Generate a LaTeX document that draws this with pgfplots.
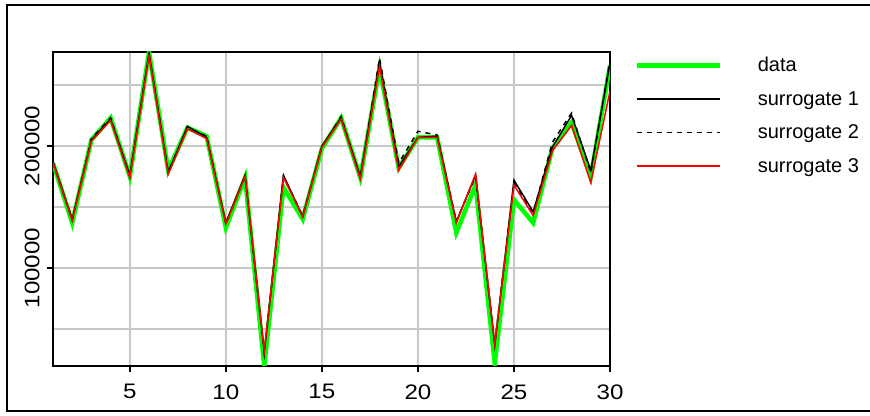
\documentclass[border=0pt]{standalone}
\usepackage{fontspec}
\setmainfont[FakeStretch=1.15]{Liberation Sans}
\newfontfamily\legendfont{Liberation Sans}
\usepackage{pgfplots}
\pgfplotsset{compat=1.18}
\usepackage{pgfplotstable}
\definecolor{datagreen}{RGB}{0,255,0}
\definecolor{gridgray}{RGB}{200,200,200}
\pgfplotstableread{
x data s1 s2 s3
1 186000 187000 186000 186000
2 137000 140000 139000 139000
3 205000 205000 206000 204000
4 223000 222000 223000 221000
5 175000 176000 175000 174000
6 277000 276000 275000 274000
7 180000 178000 179000 177000
8 215000 216000 215000 214000
9 208000 207000 208000 206000
10 133000 137000 136000 136000
11 174000 176000 175000 175000
12 20000 31000 30000 32000
13 166000 176000 175000 174000
14 140000 142000 143000 142000
15 198000 200000 199000 199000
16 223000 223000 224000 222000
17 174000 175000 174000 173000
18 264000 268000 272000 265000
19 182000 183000 186000 180000
20 207000 207000 212000 207000
21 207000 208000 209000 207000
22 129000 138000 138000 137000
23 168000 176000 175000 177000
24 22000 37000 38000 38000
25 156000 172000 170000 168000
26 137000 146000 145000 143000
27 198000 199000 203000 196000
28 219000 225000 227000 217000
29 175000 180000 178000 170000
30 266000 268000 270000 245000
}\datatable
\begin{document}
\begin{tikzpicture}[x=1pt,y=1pt]
\path[use as bounding box] (0,0) rectangle (870,415);
\draw[line width=2pt] (871,409.5) -- (6.5,409.5) -- (6.5,4) -- (871,4);
\begin{axis}[
  at={(53pt,49pt)}, anchor=south west,
  scale only axis, width=557pt, height=314pt,
  xmin=1, xmax=30, ymin=19700, ymax=277000,
  xtick={5,10,15,20,25,30},
  ytick={100000,200000},
  minor ytick={50000,150000,250000},
  grid=both,
  major grid style={line width=1.5pt, gridgray},
  minor grid style={line width=1.5pt, gridgray},
  minor tick length=0pt,
  major tick length=6pt,
  tick align=outside,
  tick style={black, line width=2pt},
  xtick pos=bottom, ytick pos=left,
  axis line style={line width=2pt, black},
  scaled y ticks=false,
  /pgf/number format/fixed,
  /pgf/number format/1000 sep={},
  /pgf/number format/assume math mode=true,
  every tick label/.append style={font=\fontsize{21}{25}\selectfont},
  yticklabel style={rotate=90, anchor=south},
  yticklabel shift={4pt},
  xticklabel shift={9pt},
  legend style={draw=none, fill=none, at={(axis description cs:1.038,0.99)}, anchor=north west,
    font=\legendfont\fontsize{20}{24}\selectfont, row sep=18pt, column sep=36pt,
    nodes={inner sep=0pt, anchor=west}},
  legend cell align=left,
  legend image code/.code={\draw[#1] (0pt,0pt) -- (83pt,0pt);},
]
\addplot[datagreen, line width=4.5pt] table[x=x,y=data] {\datatable};
\addlegendentry{data}
\addplot[black, line width=1.5pt] table[x=x,y=s1] {\datatable};
\addlegendentry{surrogate 1}
\addplot[black, line width=1.5pt, dash pattern=on 5pt off 5pt] table[x=x,y=s2] {\datatable};
\addlegendentry{surrogate 2}
\addplot[red, line width=1.5pt] table[x=x,y=s3] {\datatable};
\addlegendentry{surrogate 3}
\end{axis}
\end{tikzpicture}
\end{document}
